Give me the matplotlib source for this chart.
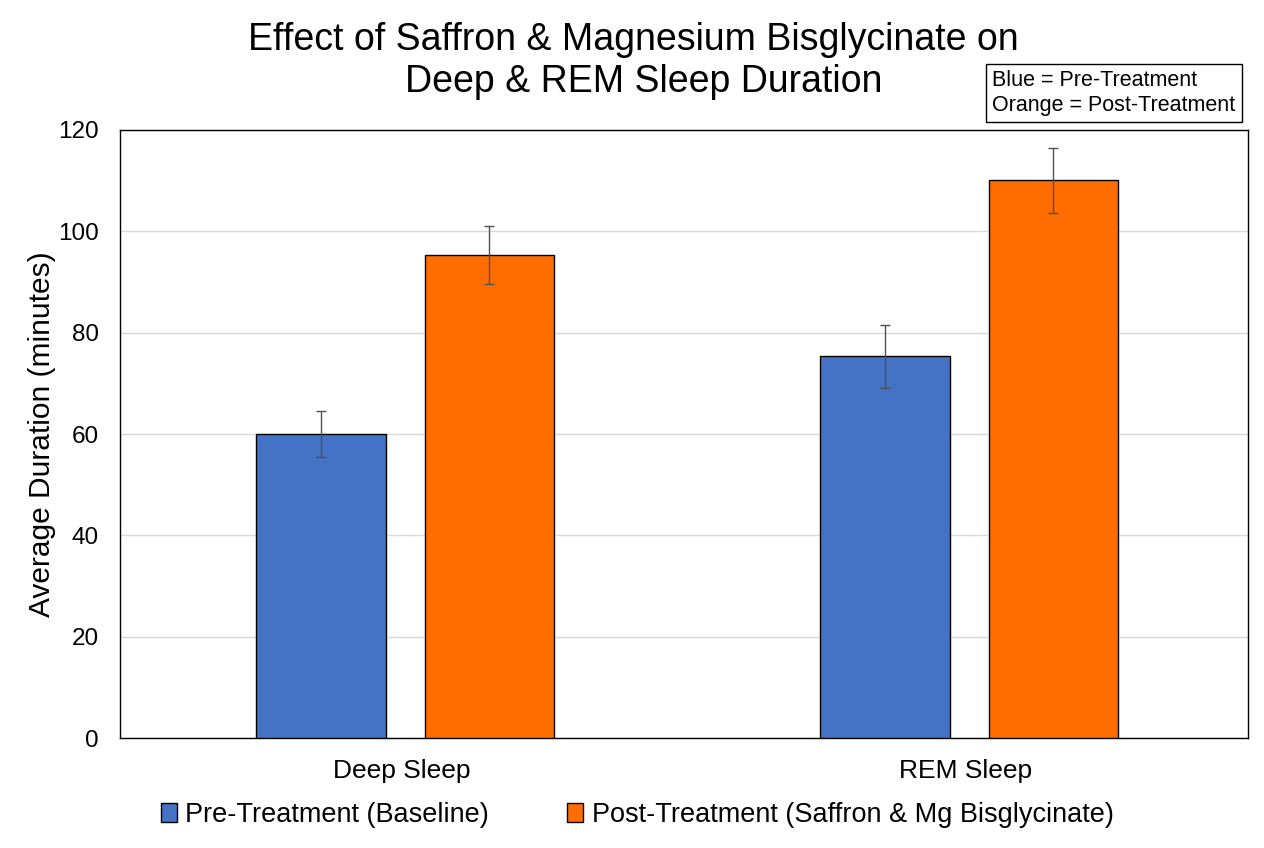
import matplotlib
matplotlib.use("Agg")
import matplotlib.pyplot as plt
import numpy as np

plt.rcParams['font.family'] = ['Liberation Sans', 'DejaVu Sans']

categories = ["Deep Sleep", "REM Sleep"]
pre_values = [60.0, 75.3]
post_values = [95.3, 110.1]
pre_err = [4.5, 6.2]
post_err = [5.7, 6.4]
series_labels = ["Pre-Treatment (Baseline)", "Post-Treatment (Saffron & Mg Bisglycinate)"]
y_ticks = [0, 20, 40, 60, 80, 100, 120]

blue = "#4472C4"
orange = "#FF6D00"

fig = plt.figure(figsize=(12.64, 8.48), dpi=100)
ax = fig.add_axes([0.0949, 0.1297, 0.8924, 0.717])

x = np.arange(len(categories))
w = 0.23
off_pre = -0.143
off_post = 0.155
ax.bar(x + off_pre, pre_values, w, color=blue, edgecolor="black", linewidth=1.0,
       label=series_labels[0], zorder=3)
ax.bar(x + off_post, post_values, w, color=orange, edgecolor="black", linewidth=1.0,
       label=series_labels[1], zorder=3)
ax.errorbar(x + off_pre, pre_values, yerr=pre_err, fmt="none", ecolor="#505050",
            elinewidth=1.0, capsize=3.5, capthick=1.0, zorder=4)
ax.errorbar(x + off_post, post_values, yerr=post_err, fmt="none", ecolor="#505050",
            elinewidth=1.0, capsize=3.5, capthick=1.0, zorder=4)

ax.set_xlim(-0.5, 1.5)
ax.set_ylim(0, 120)
ax.set_yticks(y_ticks)
ax.set_xticks(x)
ax.set_xticklabels(categories, fontsize=19)
ax.tick_params(axis="y", labelsize=17.5, length=0, pad=15)
ax.tick_params(axis="x", length=0, pad=15)
ax.grid(axis="y", color="#d9d9d9", linewidth=1.0, zorder=0)
for s in ax.spines.values():
    s.set_color("black")
    s.set_linewidth(1.0)
ax.set_ylabel("Average Duration (minutes)", fontsize=21.5, labelpad=2)

fig.text(633 / 1264, 1 - 40 / 848, "Effect of Saffron & Magnesium Bisglycinate on",
         ha="center", va="center", fontsize=27)
fig.text(644 / 1264, 1 - 82 / 848, "Deep & REM Sleep Duration",
         ha="center", va="center", fontsize=27)

fig.text(992 / 1264, 1 - 93 / 848, "Blue = Pre-Treatment\nOrange = Post-Treatment",
         ha="left", va="center", fontsize=15.5, linespacing=1.2,
         bbox=dict(boxstyle="square,pad=0.3", facecolor="white", edgecolor="black", linewidth=1.0))

fig.legend(loc="center", bbox_to_anchor=(637 / 1264, 1 - 815 / 848), ncol=2, frameon=False,
           fontsize=19.5, handlelength=0.6, handleheight=0.75, handletextpad=0.3,
           columnspacing=2.9)

fig.savefig("out.png", dpi=100)
